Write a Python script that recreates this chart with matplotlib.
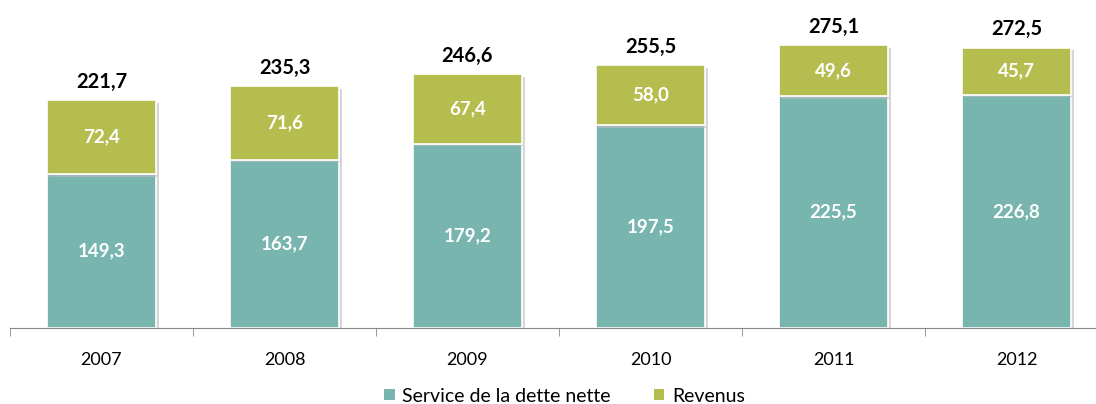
import matplotlib
matplotlib.use("Agg")
import matplotlib.pyplot as plt
import matplotlib.patheffects as pe
from matplotlib.patches import Patch
import numpy as np

years = ["2007", "2008", "2009", "2010", "2011", "2012"]
service = [149.3, 163.7, 179.2, 197.5, 225.5, 226.8]
revenus = [72.4, 71.6, 67.4, 58.0, 49.6, 45.7]
totals = [221.7, 235.3, 246.6, 255.5, 275.1, 272.5]

teal = "#78B5AF"
olive = "#B5BD4E"

plt.rcParams['font.family'] = ['Lato', 'DejaVu Sans']

fig = plt.figure(figsize=(10.96, 4.04), dpi=100)
ax = fig.add_axes([10/1096, 1 - 328/404, 1098/1096, 328/404])

x = np.arange(len(years))
w = 0.6
shadow = [pe.SimplePatchShadow(offset=(2, -2), shadow_rgbFace='#bbbbbb', alpha=0.6), pe.Normal()]
ax.bar(x, service, w, color=teal, edgecolor='white', linewidth=1.2, path_effects=shadow)
ax.bar(x, revenus, w, bottom=service, color=olive, edgecolor='white', linewidth=1.2,
       path_effects=shadow)

def fmt(v):
    return f"{v:.1f}".replace(".", ",")

for i in range(len(years)):
    ax.text(x[i], service[i] / 2, fmt(service[i]), ha='center', va='center',
            color='white', fontsize=13.5, fontweight='bold')
    ax.text(x[i], service[i] + revenus[i] / 2, fmt(revenus[i]), ha='center', va='center',
            color='white', fontsize=13.5, fontweight='bold')
    ax.text(x[i], totals[i] + 8, fmt(totals[i]), ha='center', va='bottom',
            color='black', fontsize=14.5, fontweight='bold')

ax.set_xlim(-0.5, len(years) - 0.5)
ax.set_ylim(0, 328 / 1.029)
for s in ['top', 'right', 'left']:
    ax.spines[s].set_visible(False)
ax.spines['bottom'].set_color('#888888')
ax.set_yticks([])
ax.set_xticks(x)
ax.set_xticklabels(years, fontsize=13)
ax.tick_params(axis='x', length=0, pad=17)
ax.set_xticks(np.arange(-0.5, len(years)), minor=True)
ax.tick_params(axis='x', which='minor', length=6, color='#888888')

handles = [Patch(facecolor=teal, edgecolor='none', label="Service de la dette nette"),
           Patch(facecolor=olive, edgecolor='none', label="Revenus")]
fig.legend(handles=handles, loc='center', bbox_to_anchor=(0.515, 1 - 396/404),
           ncol=2, frameon=False, fontsize=14, handlelength=0.55, handleheight=0.55,
           columnspacing=2.2, handletextpad=0.4)

fig.savefig("out.png", dpi=100)
